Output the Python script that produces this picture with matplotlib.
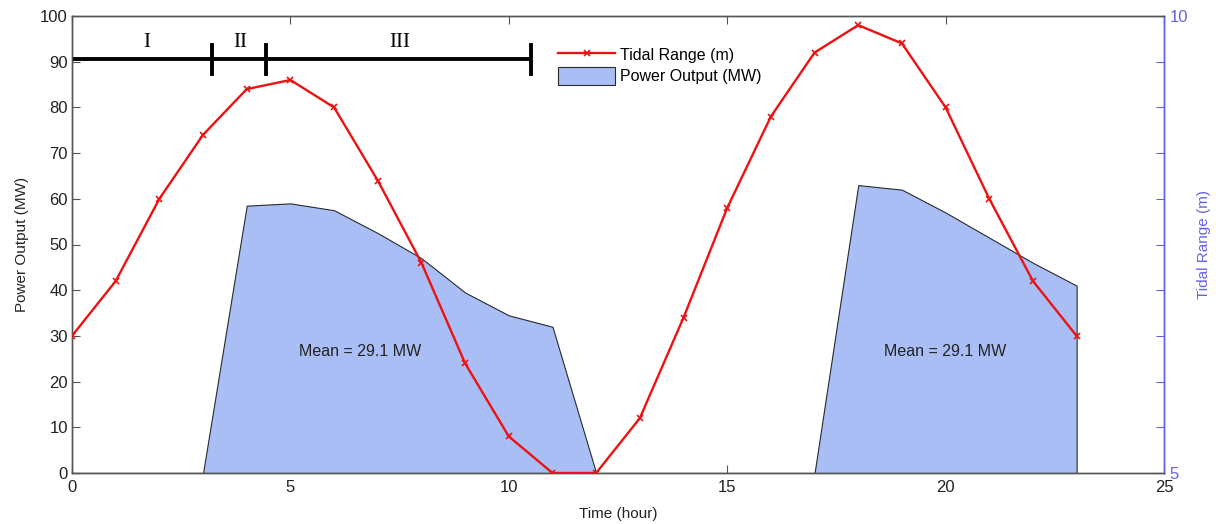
import matplotlib
matplotlib.use("Agg")
import matplotlib.pyplot as plt
from matplotlib.patches import Patch
from matplotlib.lines import Line2D
import numpy as np

# ---- data ----
hours = list(range(24))
tidal_range_m = [6.5, 7.1, 8.0, 8.7, 9.2, 9.3, 9.0, 8.2, 7.3, 6.2, 5.4, 5.0,
                 5.0, 5.6, 6.7, 7.9, 8.9, 9.6, 9.9, 9.7, 9.0, 8.0, 7.1, 6.5]
power_mw = [0, 0, 0, 0, 58.5, 59, 57.5, 52.5, 47, 39.5, 34.5, 32,
            0, 0, 0, 0, 0, 0, 63, 62, 57, 51.5, 46, 41]
phase_bounds = [0, 3.2, 4.45, 10.5]
phase_labels = ["I", "II", "III"]
phase_label_x = [1.7, 3.85, 7.5]
mean_labels = ["Mean = 29.1 MW", "Mean = 29.1 MW"]
mean_label_x = [6.6, 20.0]
mean_label_y = 26.5

plt.rcParams['font.family'] = ['Liberation Sans', 'DejaVu Sans']

fig = plt.figure(figsize=(12.16, 5.24), dpi=100)
ax = fig.add_axes([72/1216, 1-473/524, (1164-72)/1216, (473-16)/524])
ax2 = ax.twinx()

axis_gray = '#555555'
blue = '#6262e6'
fill_col = '#aabef6'

ax.fill_between(hours, power_mw, 0, facecolor=fill_col, edgecolor='#2a2a2a',
                linewidth=0.8, zorder=2)
ax2.plot(hours, tidal_range_m, color='#ee1111', marker='x', markersize=5,
         markeredgewidth=1.2, linewidth=1.7, zorder=3)

ax.set_xlim(0, 25)
ax.set_ylim(0, 100)
ax2.set_ylim(5, 10)
ax.set_xticks([0, 5, 10, 15, 20, 25])
ax.set_yticks(np.arange(0, 101, 10))
ax2.set_yticks(np.arange(5, 10.01, 0.5))
ax2.set_yticklabels(['5'] + ['']*9 + ['10'])

for a in (ax, ax2):
    for s in a.spines.values():
        s.set_color(axis_gray)
        s.set_linewidth(1.0)
ax2.spines['right'].set_color(blue)
ax.tick_params(axis='both', direction='in', length=6, color=axis_gray,
               labelsize=12, labelcolor='#222222', top=True, right=False, pad=3)
ax.tick_params(axis='x', pad=5)
ax2.tick_params(axis='y', direction='in', length=6, color=blue,
                labelsize=12, labelcolor=blue, pad=4)

ax.set_xlabel('Time (hour)', fontsize=11, color='#222222', labelpad=9)
ax.set_ylabel('Power Output (MW)', fontsize=11, color='#222222', labelpad=8)
ax2.set_ylabel('Tidal Range (m)', fontsize=11, color=blue)
ax2.yaxis.set_label_coords((1197-72)/(1164-72), 0.5)

# phase bar
ax.plot([phase_bounds[0], phase_bounds[-1]], [90.5, 90.5], color='black',
        linewidth=2.8, zorder=4, solid_capstyle='butt', clip_on=False)
for b in phase_bounds[1:]:
    ax.plot([b, b], [87.3, 93.7], color='black', linewidth=2.8, zorder=4)
for lx, lab in zip(phase_label_x, phase_labels):
    ax.text(lx, 94.3, lab, ha='center', va='center', fontsize=15,
            family='Liberation Serif', color='black', zorder=5)

for mx, ml in zip(mean_label_x, mean_labels):
    ax.text(mx, mean_label_y, ml, ha='center', va='center', fontsize=11.5,
            color='#222222', zorder=5)

handles = [Line2D([], [], color='#ee1111', marker='x', markersize=5,
                  markeredgewidth=1.2, linewidth=1.7),
           Patch(facecolor=fill_col, edgecolor='#2a2a2a', linewidth=0.8)]
fig.legend(handles, ['Tidal Range (m)', 'Power Output (MW)'],
           loc='upper left', bbox_to_anchor=(550/1216, 1-38/524),
           frameon=False, fontsize=11.5, handlelength=3.6, handleheight=1.3,
           handletextpad=0.3, labelspacing=0.25, borderpad=0)

fig.savefig('out.png', dpi=100)
